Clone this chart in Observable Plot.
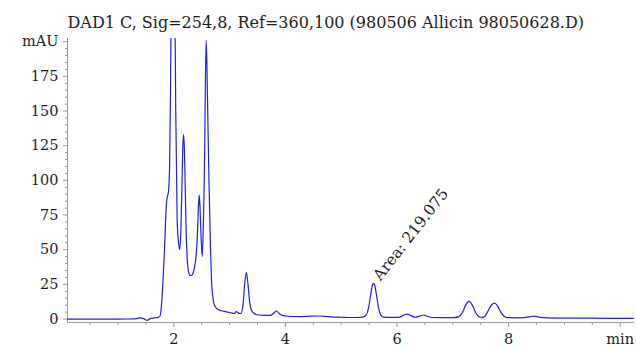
<!DOCTYPE html>
<html>
<head>
<meta charset="utf-8">
<script src="https://cdn.jsdelivr.net/npm/d3@7"></script>
<script src="https://cdn.jsdelivr.net/npm/@observablehq/plot@0.6"></script>
<style>
  html, body { margin: 0; padding: 0; background: #fff; }
</style>
</head>
<body>
<div id="chart"></div>
<script>
const titleText = "DAD1 C, Sig=254,8, Ref=360,100 (980506 Allicin 98050628.D)";

// retention time (min)
const times = [
  0.10, 0.50, 1.00, 1.30, 1.40, 1.46, 1.52, 1.58, 1.65, 1.72,
  1.75, 1.77, 1.79, 1.81, 1.83, 1.85, 1.87, 1.89, 1.905, 1.925,
  1.94, 1.955, 1.975, 1.995, 2.015, 2.035, 2.06, 2.085, 2.105, 2.125,
  2.145, 2.162, 2.175, 2.19, 2.205, 2.22, 2.24, 2.265, 2.29, 2.32,
  2.345, 2.37, 2.39, 2.42, 2.44, 2.455, 2.47, 2.49, 2.51, 2.53,
  2.55, 2.565, 2.58, 2.595, 2.61, 2.63, 2.655, 2.675, 2.70, 2.72,
  2.75, 2.78, 2.85, 2.93, 3.00, 3.08, 3.12, 3.16, 3.20, 3.24,
  3.27, 3.30, 3.33, 3.36, 3.39, 3.44, 3.49, 3.60, 3.73, 3.79,
  3.84, 3.89, 3.94, 4.05, 4.25, 4.45, 4.60, 4.80, 5.00, 5.20,
  5.36, 5.44, 5.49, 5.53, 5.56, 5.58, 5.60, 5.63, 5.67, 5.71,
  5.76, 5.90, 6.05, 6.12, 6.18, 6.24, 6.33, 6.42, 6.48, 6.54,
  6.63, 6.80, 7.00, 7.10, 7.17, 7.23, 7.29, 7.35, 7.41, 7.47,
  7.52, 7.58, 7.64, 7.70, 7.75, 7.80, 7.86, 7.92, 7.98, 8.20,
  8.38, 8.46, 8.54, 8.70, 9.00, 9.50, 10.00, 10.26
];

// absorbance (mAU)
const values = [
  0.0, 0.0, 0.0, 0.1, 0.8, 0.3, -0.9, 0.3, 0.8, 1.2,
  2.0, 6, 16, 31, 47, 68, 84, 89, 92, 110,
  160, 240, 300, 310, 250, 150, 71, 55, 50, 62,
  95, 125, 133, 122, 95, 65, 44, 34, 31.5, 31.5,
  33, 37, 42, 58, 80, 89.5, 80, 58, 45, 70,
  110, 165, 201, 180, 145, 100, 55, 28, 16, 11,
  8.5, 7.2, 6.0, 5.3, 4.7, 4.0, 5.3, 4.3, 4.0, 10,
  25, 33.5, 25, 12, 6.5, 4.0, 3.1, 2.7, 2.6, 4.2,
  5.8, 4.0, 2.6, 2.0, 1.8, 2.1, 2.2, 1.6, 1.3, 1.1,
  1.2, 2.5, 8, 18, 24.5, 25.7, 24.5, 18, 8, 2.8,
  1.4, 1.2, 1.4, 2.8, 3.6, 2.6, 1.3, 2.3, 2.9, 2.0,
  1.1, 1.0, 1.0, 1.6, 4.5, 10, 12.7, 10, 4.5, 1.6,
  1.2, 2.2, 6.5, 10.5, 11.5, 9.5, 5, 2, 1.0, 0.9,
  1.6, 2.1, 1.4, 0.8, 0.7, 0.6, 0.5, 0.5
];

// annotation
const annX = [5.58];
const annY = [25.7];
const annText = ["Area: 219.075"];

// axis ticks
const xMajor = [2, 4, 6, 8, 10];
const xLabels = ["2", "4", "6", "8", "min"];
const xMinor = d3.range(0.5, 10.01, 0.5).filter(d => !xMajor.includes(d));
const yMajor = [0, 25, 50, 75, 100, 125, 150, 175, 200];
const yLabels = ["0", "25", "50", "75", "100", "125", "150", "175", "mAU"];
const yMinor = d3.range(0, 201, 5).filter(d => !yMajor.includes(d));

const xMin = 0.095, xMax = 10.256, yMin = -2.5, yMax = 202.3;

const data = times.map((t, i) => ({t, v: values[i]}));

const axisColor = "#9a9a9a";
const textColor = "#1e1e1e";
const serif = "'DejaVu Serif', 'Liberation Serif', serif";

const chart = Plot.plot({
  width: 636,
  height: 347,
  marginLeft: 67,
  marginRight: 2,
  marginTop: 38,
  marginBottom: 25,
  x: {domain: [xMin, xMax], label: null},
  y: {domain: [yMin, yMax], label: null},
  style: {fontFamily: serif, fontSize: "14.5px", background: "#fff", color: textColor},
  marks: [
    Plot.axisX({ticks: xMinor, tickSize: 3, tickFormat: () => "", stroke: axisColor, label: null}),
    Plot.axisX({ticks: xMajor, tickSize: 5, tickPadding: 6.5, tickFormat: d => xLabels[xMajor.indexOf(d)], stroke: axisColor, fill: textColor, fontSize: 14.5, label: null}),
    Plot.axisY({ticks: yMinor, tickSize: 2, tickFormat: () => "", stroke: axisColor, label: null}),
    Plot.axisY({ticks: yMajor, tickSize: 4, tickPadding: 5, tickFormat: d => yLabels[yMajor.indexOf(d)], stroke: axisColor, fill: textColor, fontSize: 14.5, label: null}),
    Plot.ruleX([xMin], {stroke: axisColor}),
    Plot.ruleY([yMin], {stroke: axisColor}),
    Plot.line(data, {x: "t", y: "v", stroke: "#1f1ff2", strokeWidth: 1.2, curve: "monotone-x", clip: true}),
    Plot.text(annText, {x: annX, y: annY, text: d => d, rotate: -52, textAnchor: "start", lineAnchor: "bottom", dx: 7, dy: -2, fill: textColor, fontSize: 15.5}),
    Plot.text([titleText], {frameAnchor: "top-left", text: d => d, textAnchor: "start", lineAnchor: "bottom", dy: -11, fill: textColor, fontSize: 16})
  ]
});

document.getElementById("chart").appendChild(chart);
</script>
</body>
</html>
